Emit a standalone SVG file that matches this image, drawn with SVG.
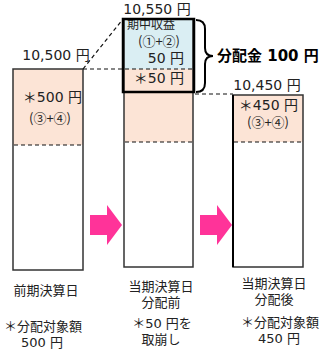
<svg xmlns="http://www.w3.org/2000/svg" width="325" height="350" viewBox="0 0 325 350">
<style>
text{font-family:"DejaVu Sans","Noto Sans CJK JP",sans-serif;fill:#222}
.v{font-size:14px}
.s{font-size:12px}
.c{font-size:13px;font-family:"Noto Sans CJK JP",sans-serif}
.b{font-size:13px}
.bar{fill:none;stroke:#333;stroke-width:1.5}
.dash{fill:none;stroke:#111;stroke-width:1.2;stroke-dasharray:4 3}
.peach{fill:#FCE4D6}
.blue{fill:#DAEEF3}
.arrow{fill:#FF3399}
</style>
<rect width="325" height="350" fill="#fff"/>
<g id="bar-prev">
<rect class="peach" x="13" y="69" width="70" height="76"/>
<rect class="bar" x="13" y="69" width="70" height="201"/>
<line class="dash" x1="14" y1="145" x2="82" y2="145"/>
<text class="v" x="56" y="60" text-anchor="middle">10,500 円</text>
<text class="v" x="82" y="102" text-anchor="end">＊500 円</text>
<text class="c" x="50" y="123" text-anchor="middle">(③+④)</text>
</g>
<g id="bar-before">
<rect class="blue" x="124" y="19" width="69" height="50"/>
<rect class="peach" x="124" y="69" width="69" height="73"/>
<rect class="bar" x="124" y="19" width="69" height="248"/>
<line class="dash" x1="125" y1="142" x2="192" y2="142"/>
<text class="v" x="157" y="14" text-anchor="middle">10,550 円</text>
<text class="s" x="127" y="29">期中収益</text>
<text class="c" x="159" y="46" text-anchor="middle">(①+②)</text>
<text class="v" x="184" y="63" text-anchor="end">50 円</text>
<text class="v" x="184" y="83" text-anchor="end">＊50 円</text>
</g>
<g id="bar-after">
<rect class="peach" x="233" y="95" width="70" height="47"/>
<rect class="bar" x="233" y="95" width="70" height="172"/>
<line x1="233" y1="95" x2="233" y2="267" stroke="#000" stroke-width="2"/>
<line class="dash" x1="234" y1="142" x2="302" y2="142"/>
<text class="v" x="267" y="90" text-anchor="middle">10,450 円</text>
<text class="v" x="298" y="110" text-anchor="end">＊450 円</text>
<text class="c" x="268" y="127" text-anchor="middle">(③+④)</text>
</g>
<g id="connectors">
<line class="dash" x1="83" y1="69" x2="123" y2="19"/>
<line class="dash" x1="83" y1="69" x2="193" y2="69"/>
<line class="dash" x1="195" y1="94" x2="233" y2="94"/>
<polygon class="arrow" points="90,215 107,215 107,205 122,225 107,245 107,235 90,235"/>
<polygon class="arrow" points="200,215 217,215 217,205 232,225 217,245 217,235 200,235"/>
</g>
<g id="dist-box">
<rect x="123" y="19" width="71" height="73" fill="none" stroke="#000" stroke-width="2.5"/>
<path d="M196,20 Q205,20 205,29 L205,48 Q205,56 213,56 Q205,56 205,64 L205,83 Q205,92 196,92" fill="none" stroke="#000" stroke-width="2"/>
<text x="217" y="61" font-size="15" font-weight="bold" style="fill:#000">分配金 100 円</text>
</g>
<g id="labels">
<text class="b" x="46" y="295" text-anchor="middle">前期決算日</text>
<text class="b" x="161" y="291" text-anchor="middle">当期決算日</text>
<text class="b" x="161" y="307" text-anchor="middle">分配前</text>
<text class="b" x="274" y="288" text-anchor="middle">当期決算日</text>
<text class="b" x="274" y="304" text-anchor="middle">分配後</text>
<text class="b" x="43" y="331" text-anchor="middle">＊分配対象額</text>
<text class="b" x="42" y="347" text-anchor="middle">500 円</text>
<text class="b" x="162" y="328" text-anchor="middle">＊50 円を</text>
<text class="b" x="161" y="344" text-anchor="middle">取崩し</text>
<text class="b" x="280" y="327" text-anchor="middle">＊分配対象額</text>
<text class="b" x="279" y="343" text-anchor="middle">450 円</text>
</g>
</svg>
